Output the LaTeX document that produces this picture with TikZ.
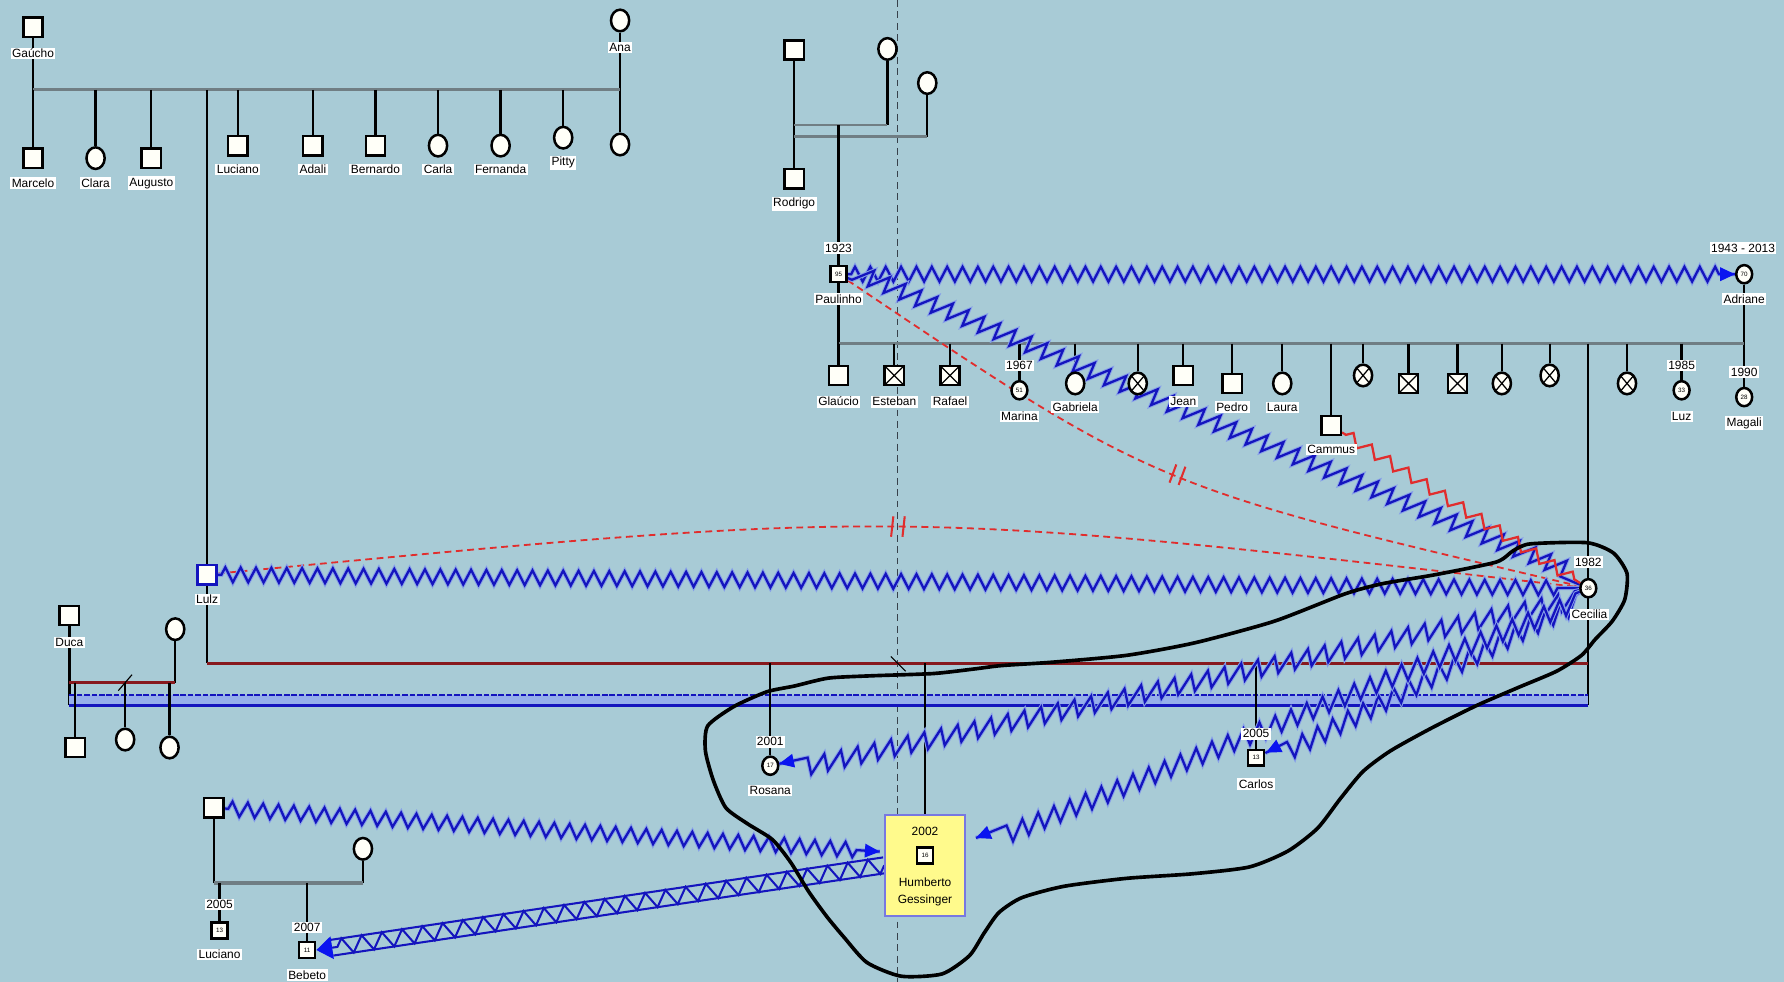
\documentclass[tikz,border=0pt]{standalone}
\usepackage{fontspec}
\setmainfont{Liberation Sans}
\usetikzlibrary{shapes.geometric,decorations.pathmorphing,arrows.meta,calc}
\definecolor{bgc}{RGB}{168,203,214}
\definecolor{sibgray}{RGB}{112,126,132}
\definecolor{zblue}{RGB}{20,20,190}
\definecolor{zhalo}{RGB}{135,160,232}
\definecolor{tipblue}{RGB}{10,20,240}
\definecolor{bandfill}{RGB}{150,175,235}
\definecolor{relred}{RGB}{135,25,30}
\definecolor{dred}{RGB}{225,45,45}
\definecolor{boxyel}{RGB}{255,250,140}
\definecolor{boxedge}{RGB}{120,120,225}
\definecolor{symfill}{RGB}{255,255,248}
\definecolor{guide}{RGB}{55,65,75}
\pgfdeclarelayer{back}
\pgfdeclarelayer{lines}
\pgfdeclarelayer{rel}
\pgfsetlayers{back,lines,rel,main}
\tikzset{
  sym/.style={draw=black, line width=2.2pt, fill=symfill, inner sep=0pt},
  sq/.style={sym, rectangle, minimum size=17pt},
  ci/.style={sym, ellipse, minimum width=16pt, minimum height=19pt},
  sqs/.style={sym, rectangle, minimum size=14pt, font=\fontsize{5.5}{6}\selectfont},
  cis/.style={sym, ellipse, minimum width=14pt, minimum height=16pt, font=\fontsize{5.5}{6}\selectfont},
  xmark/.style={path picture={\draw[line width=1.1pt]
      (path picture bounding box.south west) -- (path picture bounding box.north east)
      (path picture bounding box.north west) -- (path picture bounding box.south east);}},
  lab/.style={fill=white, inner sep=1.3pt, font=\fontsize{10.5}{11}\selectfont},
  boxtxt/.style={inner sep=0pt, font=\fontsize{10.5}{11}\selectfont},
  kin/.style={draw=black, line width=2pt},
  sib/.style={draw=sibgray, line width=2.8pt},
  redrel/.style={draw=relred, line width=2.4pt},
  halo/.style={preaction={draw=zhalo, line width=3.8pt}},
  zz/.style={halo, draw=zblue, line width=2pt, decorate,
      decoration={zigzag, amplitude=6.5pt, segment length=13.5pt, pre length=3pt, post length=14pt}},
  sawz/.style={halo, draw=zblue, line width=2pt, decorate,
      decoration={saw, amplitude=15pt, segment length=15pt, pre length=4pt, post length=14pt}},
  redzz/.style={draw=dred, line width=2pt, decorate,
      decoration={zigzag, amplitude=5pt, segment length=19pt, pre length=4pt, post length=4pt}},
  rdash/.style={draw=dred, line width=1.6pt, dash pattern=on 6pt off 4pt},
  tip/.style={-{Triangle[length=13pt,width=12pt]}, draw=tipblue, fill=tipblue, line width=1pt},
  brk/.style={draw=dred, line width=1.8pt},
  outline/.style={draw=black, line width=3.2pt, line join=round}
}
\begin{document}
\begin{tikzpicture}[x=1pt, y=-1pt]
\useasboundingbox (0,0) rectangle (1568,863);

% ---------- people ----------
% Gaucho and Ana with their children
\node[sq] (gaucho) at (29,24) {};
\node[lab] (gauchoL) at (29,47) {Gaúcho};
\node[ci] (ana) at (545,18) {};
\node[lab] (anaL) at (545,42) {Ana};
\node[sq] (marcelo) at (29,139) {};   \node[lab] (marceloL) at (29,161) {Marcelo};
\node[ci] (clara) at (84,139) {};     \node[lab] (claraL) at (84,161) {Clara};
\node[sq] (augusto) at (133,139) {};  \node[lab] (augustoL) at (133,161) {Augusto};
\node[sq] (lucianoA) at (209,128) {}; \node[lab] (lucianoAL) at (209,149) {Luciano};
\node[sq] (adali) at (275,128) {};    \node[lab] (adaliL) at (275,149) {Adali};
\node[sq] (bernardo) at (330,128) {}; \node[lab] (bernardoL) at (330,149) {Bernardo};
\node[ci] (carla) at (385,128) {};    \node[lab] (carlaL) at (385,149) {Carla};
\node[ci] (fernanda) at (440,128) {}; \node[lab] (fernandaL) at (440,149) {Fernanda};
\node[ci] (pitty) at (495,121) {};    \node[lab] (pittyL) at (495,143) {Pitty};
\node[ci] (anaD) at (545,127) {};

% Paulinho's parents
\node[sq] (pfa) at (698,44) {};
\node[ci] (pmoA) at (780,43) {};
\node[ci] (pmoB) at (815,73) {};
\node[sq] (rodrigo) at (698,157) {};  \node[lab] (rodrigoL) at (698,179) {Rodrigo};

% Paulinho and Adriane
\node[sqs] (paulinho) at (737,241) {95};
\node[lab] (paulinhoY) at (737,218) {1923};
\node[lab] (paulinhoL) at (737,263) {Paulinho};
\node[cis] (adriane) at (1533,241) {70};
\node[lab] (adrianeY) at (1532,218) {1943 - 2013};
\node[lab] (adrianeL) at (1533,263) {Adriane};

% their children
\node[sq] (glaucio) at (737,330) {};         \node[lab] (glaucioL) at (737,353) {Glaúcio};
\node[sq, xmark] (esteban) at (786,330) {};  \node[lab] (estebanL) at (786,353) {Esteban};
\node[sq, xmark] (rafael) at (835,330) {};   \node[lab] (rafaelL) at (835,353) {Rafael};
\node[cis] (marina) at (896,343) {51};
\node[lab] (marinaY) at (896,321) {1967};    \node[lab] (marinaL) at (896,366) {Marina};
\node[ci] (gabriela) at (945,337) {};        \node[lab] (gabrielaL) at (945,358) {Gabriela};
\node[ci, xmark] (dA) at (1000,337) {};
\node[sq] (jean) at (1040,330) {};           \node[lab] (jeanL) at (1040,353) {Jean};
\node[sq] (pedro) at (1083,337) {};          \node[lab] (pedroL) at (1083,358) {Pedro};
\node[ci] (laura) at (1127,337) {};          \node[lab] (lauraL) at (1127,358) {Laura};
\node[sq] (cammus) at (1170,374) {};         \node[lab] (cammusL) at (1170,395) {Cammus};
\node[ci, xmark] (dB) at (1198,330) {};
\node[sq, xmark] (dC) at (1238,337) {};
\node[sq, xmark] (dD) at (1281,337) {};
\node[ci, xmark] (dE) at (1320,337) {};
\node[ci, xmark] (dF) at (1362,330) {};
\node[ci, xmark] (dG) at (1430,337) {};
\node[cis] (luz) at (1478,343) {33};
\node[lab] (luzY) at (1478,321) {1985};      \node[lab] (luzL) at (1478,366) {Luz};
\node[cis] (magali) at (1533,349) {28};
\node[lab] (magaliY) at (1533,327) {1990};   \node[lab] (magaliL) at (1533,372) {Magali};

% Cecilia
\node[cis] (cecilia) at (1396,517) {36};
\node[lab] (ceciliaY) at (1396,494) {1982};
\node[lab] (ceciliaL) at (1397,540) {Cecilia};

% Lulz
\node[sq, draw=zblue] (lulz) at (182,505) {};
\node[lab] (lulzL) at (182,527) {Lulz};

% Duca's family
\node[sq] (duca) at (61,541) {};  \node[lab] (ducaL) at (61,565) {Duca};
\node[ci] (ducaW) at (154,553) {};
\node[sq] (dkA) at (66,657) {};
\node[ci] (dkB) at (110,650) {};
\node[ci] (dkC) at (149,657) {};

% children of Lulz and Cecilia
\node[cis] (rosana) at (677,673) {17};
\node[lab] (rosanaY) at (677,652) {2001};    \node[lab] (rosanaL) at (677,695) {Rosana};
\node[sqs] (carlos) at (1104,666) {13};
\node[lab] (carlosY) at (1104,645) {2005};   \node[lab] (carlosL) at (1104,689) {Carlos};
\node[draw=boxedge, fill=boxyel, line width=1.6pt, minimum width=70pt, minimum height=89pt] (hbox) at (813,760.5) {};
\node[boxtxt] (humbY) at (813,731) {2002};
\node[sqs] (humb) at (813,752) {16};
\node[boxtxt] (humbA) at (813,775) {Humberto};
\node[boxtxt] (humbB) at (813,791) {Gessinger};

% bottom-left family
\node[sq] (bsq) at (188,710) {};
\node[ci] (bci) at (319,746) {};
\node[sqs] (lucianoB) at (193,818) {13};
\node[lab] (lucianoBY) at (193,795) {2005};  \node[lab] (lucianoBL) at (193,839) {Luciano};
\node[sqs] (bebeto) at (270,835) {11};
\node[lab] (bebetoY) at (270,815) {2007};    \node[lab] (bebetoL) at (270,857) {Bebeto};

% line levels
\coordinate (g1) at (0,79);
\coordinate (u1) at (0,110);
\coordinate (u2) at (0,120);
\coordinate (u3) at (0,302);
\coordinate (lc) at (0,583);
\coordinate (dr) at (0,600);
\coordinate (bl1) at (0,611);
\coordinate (bl2) at (0,620);
\coordinate (u4) at (0,776);
\coordinate (guideT) at (789,0);
\coordinate (guideB) at (789,863);
% where the arrows reach Humberto's box
\coordinate (hE) at ($(hbox.east)+(9,-24)$);
\coordinate (hW) at ($(hbox.west)+(-4,-12)$);

% ---------- background ----------
\begin{pgfonlayer}{back}
\fill[bgc] (0,0) rectangle (1568,863);
\end{pgfonlayer}

% ---------- family lines ----------
\begin{pgfonlayer}{lines}
\draw[guide, line width=0.9pt, dash pattern=on 6pt off 4pt] (guideT) -- (guideB);

% Gaucho + Ana
\draw[kin] (gaucho) -- (gaucho |- g1);
\draw[kin] (ana) -- (anaD);
\draw[sib] (gaucho |- g1) -- (ana |- g1);
\foreach \c in {marcelo,clara,augusto,lucianoA,adali,bernardo,carla,fernanda,pitty}
  \draw[kin] (\c |- g1) -- (\c);
\draw[kin] (lulz |- g1) -- (lulz |- lc);

% Paulinho's parents
\draw[kin] (pfa) -- (rodrigo);
\draw[kin] (pmoA) -- (pmoA |- u1);
\draw[kin] (pmoB) -- (pmoB |- u2);
\draw[sib, line width=2.2pt] (pfa |- u1) -- (pmoA |- u1);
\draw[sib, line width=2.2pt] (pfa |- u2) -- (pmoB |- u2);
\draw[kin] (paulinho |- u1) -- (paulinho);

% Paulinho + Adriane
\draw[kin] (paulinho) -- (paulinho |- u3);
\draw[kin] (adriane) -- (magali);
\draw[sib] (paulinho |- u3) -- (adriane |- u3);
\foreach \c in {glaucio,esteban,rafael,marina,gabriela,dA,jean,pedro,laura,cammus,dB,dC,dD,dE,dF,dG,luz}
  \draw[kin] (\c |- u3) -- (\c);
\draw[kin] (cecilia |- u3) -- (cecilia |- bl2);

% Duca + partner
\draw[kin] (duca) -- (duca |- bl2);
\draw[kin] (ducaW) -- (ducaW |- dr);
\fill[bandfill] (duca |- bl1) rectangle (cecilia |- bl2);
\draw[zblue, line width=1.5pt, dash pattern=on 5pt off 1.5pt] (duca |- bl1) -- (cecilia |- bl1);
\draw[zblue, line width=2.2pt] (duca |- bl2) -- (cecilia |- bl2);
\draw[redrel] (duca |- dr) -- (ducaW |- dr);
\foreach \c in {dkA,dkB,dkC}
  \draw[kin] (\c |- dr) -- (\c);
\draw[black, line width=1pt] ($(dkB |- dr)+(-6,7)$) -- ($(dkB |- dr)+(6,-7)$);

% Lulz + Cecilia
\draw[redrel] (lulz |- lc) -- (cecilia |- lc);
\draw[black, line width=1pt] ($(guideT |- lc)+(-6,-6)$) -- ($(guideT |- lc)+(7,7)$);
\draw[kin] (rosana |- lc) -- (rosana);
\draw[kin] (carlos |- lc) -- (carlos);
\draw[kin] (hbox |- lc) -- (hbox);

% bottom-left couple
\draw[kin] (bsq) -- (bsq |- u4);
\draw[kin] (bci) -- (bci |- u4);
\draw[sib] (bsq |- u4) -- (bci |- u4);
\draw[kin] (lucianoB |- u4) -- (lucianoB);
\draw[kin] (bebeto |- u4) -- (bebeto);
\end{pgfonlayer}

% ---------- relationship lines ----------
\begin{pgfonlayer}{rel}
% cut-off relations (dashed, with break marks)
\draw[rdash] (paulinho) .. controls (1015,428) .. (cecilia) coordinate[pos=0.5] (mkA);
\draw[brk] ($(mkA)+(6,-8)$) -- ($(mkA)+(0,8)$) ($(mkA)+(14,-6)$) -- ($(mkA)+(8,10)$);
\draw[rdash] (lulz) .. controls (789,447) .. (cecilia) coordinate[pos=0.5] (mkB);
\draw[brk] ($(mkB)+(-4,-9)$) -- ($(mkB)+(-6,9)$) ($(mkB)+(6,-9)$) -- ($(mkB)+(4,9)$);

% hostile relations
\draw[zz] (paulinho) -- (adriane);
\draw[tip] ($(adriane.west)+(-15,0)$) -- (adriane.west);
\draw[sawz] (paulinho) -- (cecilia);
\draw[zz] (lulz) -- (cecilia);
\draw[redzz] (cammus) -- (cecilia);

\draw[sawz] (cecilia) -- (rosana);
\draw[tip] ($(rosana)!22pt!(cecilia)$) -- ($(rosana)!8pt!(cecilia)$);
\draw[sawz] (cecilia) -- (carlos);
\draw[tip] ($(carlos)!24pt!(cecilia)$) -- ($(carlos)!10pt!(cecilia)$);
\draw[sawz] (cecilia) -- (hE);
\draw[tip] ($(hE)!14pt!(cecilia)$) -- (hE);

\draw[zz] (bsq) -- (hW);
\draw[tip] ($(hW)!13pt!(bsq)$) -- (hW);

% double band from Humberto to Bebeto
\coordinate (be) at ($(bebeto.east)!14pt!(hbox.west)$);
\draw[zblue, line width=1.8pt] ($(hbox.west)!7pt!90:(bebeto.east)$) -- ($(be)!7pt!-90:(hbox.west)$);
\draw[zblue, line width=1.8pt] ($(hbox.west)!7pt!-90:(bebeto.east)$) -- ($(be)!7pt!90:(hbox.west)$);
\draw[zblue, line width=1.8pt, decorate, decoration={zigzag, amplitude=7pt, segment length=18pt}] (hbox.west) -- (be);
\draw[-{Triangle[length=14pt,width=20pt]}, draw=tipblue, fill=tipblue, line width=1pt] (be) -- (bebeto.east);

% hand-drawn grouping outline
\draw[outline] plot[smooth cycle, tension=0.4] coordinates {
  (1345,478) (1395,477) (1418,486) (1430,504) (1428,527) (1417,546) (1402,562)
  (1390,576) (1368,590) (1335,604) (1298,620) (1258,640) (1222,660) (1198,678)
  (1178,702) (1158,728) (1132,748) (1098,762) (1048,768) (990,772) (935,779)
  (898,789) (878,802) (865,820) (852,840) (828,856) (792,858) (762,846) (742,824)
  (727,806) (711,784) (695,758) (679,738) (657,724) (638,710) (627,686) (620,660)
  (622,638) (645,621) (674,608) (698,603) (728,596) (765,594) (820,592) (856,588)
  (880,585) (925,582) (990,576) (1050,565) (1120,546) (1182,522) (1215,513)
  (1262,505) (1315,494) (1330,484)};
\end{pgfonlayer}
\end{tikzpicture}
\end{document}
